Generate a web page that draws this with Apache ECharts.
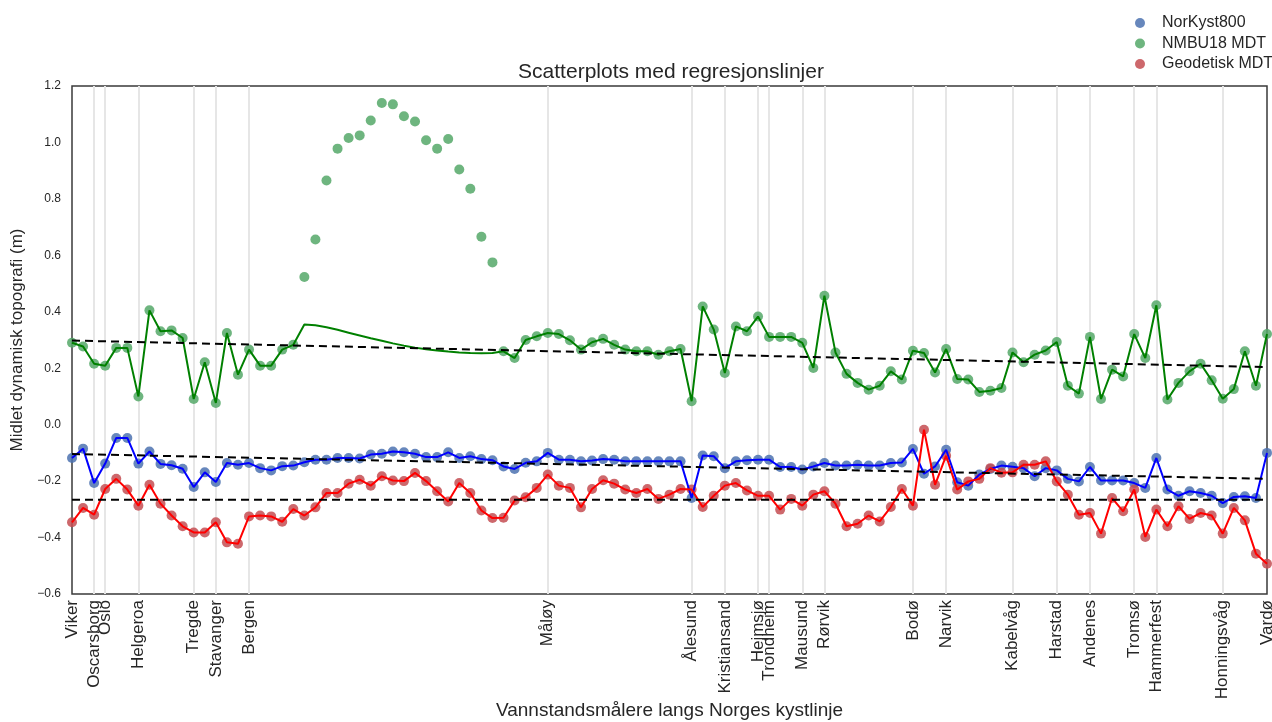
<!DOCTYPE html>
<html>
<head>
<meta charset="utf-8">
<script src="https://cdn.jsdelivr.net/npm/echarts@6/dist/echarts.min.js"></script>
<style>
  html, body { margin: 0; padding: 0; background: #fff; }
  #main { width: 1272px; height: 722px; }
</style>
</head>
<body>
<div id="main"></div>
<script>
// stasjoner langs kysten (indeks -> navn)
const stationIdx = [0, 2, 3, 6, 11, 13, 16, 43, 56, 59, 62, 63, 66, 68, 76, 79, 85, 89, 92, 96, 98, 104, 108];
const stationNames = ['Viker', 'Oscarsborg', 'Oslo', 'Helgeroa', 'Tregde', 'Stavanger', 'Bergen', 'Måløy',
    'Ålesund', 'Kristiansand', 'Hejmsjø', 'Trondheim', 'Mausund', 'Rørvik', 'Bodø', 'Narvik',
    'Kabelvåg', 'Harstad', 'Andenes', 'Tromsø', 'Hammerfest', 'Honningsvåg', 'Vardø'];
const nPoints = 109;

const norkyst = [
    -0.118, -0.085, -0.207, -0.138, -0.047, -0.047, -0.138, -0.095, -0.139, -0.144,
    -0.156, -0.221, -0.169, -0.203, -0.136, -0.142, -0.136, -0.154, -0.162, -0.147,
    -0.145, -0.133, -0.124, -0.124, -0.118, -0.118, -0.120, -0.106, -0.103, -0.095,
    -0.098, -0.103, -0.115, -0.115, -0.098, -0.118, -0.112, -0.122, -0.126, -0.148,
    -0.157, -0.135, -0.130, -0.100, -0.124, -0.124, -0.130, -0.127, -0.122, -0.124,
    -0.130, -0.130, -0.130, -0.130, -0.130, -0.130, -0.260, -0.109, -0.112, -0.154,
    -0.130, -0.126, -0.124, -0.124, -0.150, -0.150, -0.159, -0.148, -0.136, -0.145,
    -0.145, -0.142, -0.145, -0.145, -0.136, -0.134, -0.086, -0.174, -0.148, -0.089,
    -0.204, -0.216, -0.177, -0.157, -0.145, -0.149, -0.154, -0.183, -0.154, -0.162,
    -0.192, -0.201, -0.150, -0.198, -0.198, -0.198, -0.207, -0.224, -0.118, -0.230,
    -0.252, -0.236, -0.242, -0.252, -0.278, -0.256, -0.254, -0.260, -0.100
];
const nmbu = [
    0.290, 0.277, 0.216, 0.209, 0.272, 0.272, 0.100, 0.405, 0.331, 0.334,
    0.307, 0.091, 0.221, 0.077, 0.325, 0.177, 0.266, 0.209, 0.209, 0.266,
    0.283, 0.523, 0.656, 0.865, 0.978, 1.016, 1.025, 1.078, 1.140, 1.135,
    1.093, 1.074, 1.008, 0.978, 1.012, 0.904, 0.836, 0.666, 0.575, 0.260,
    0.236, 0.300, 0.313, 0.325, 0.321, 0.299, 0.266, 0.292, 0.304, 0.283,
    0.266, 0.260, 0.260, 0.248, 0.260, 0.268, 0.083, 0.419, 0.337, 0.183,
    0.348, 0.331, 0.383, 0.311, 0.311, 0.311, 0.290, 0.201, 0.457, 0.256,
    0.180, 0.148, 0.124, 0.138, 0.189, 0.160, 0.262, 0.254, 0.185, 0.268,
    0.162, 0.160, 0.116, 0.120, 0.130, 0.256, 0.221, 0.248, 0.263, 0.293,
    0.138, 0.110, 0.311, 0.091, 0.195, 0.171, 0.321, 0.236, 0.423, 0.089,
    0.148, 0.189, 0.216, 0.157, 0.092, 0.126, 0.260, 0.138, 0.321
];
// linja for NMBU18 gaar annerledes i indeks 21-38
const nmbuLineStart = 21;
const nmbuLinePart = [0.355, 0.352, 0.345, 0.336, 0.326, 0.316, 0.306, 0.297, 0.288,
    0.280, 0.273, 0.267, 0.263, 0.259, 0.256, 0.254, 0.253, 0.254];
const geodetisk = [
    -0.346, -0.295, -0.319, -0.228, -0.192, -0.230, -0.287, -0.213, -0.280, -0.322,
    -0.360, -0.382, -0.382, -0.346, -0.417, -0.422, -0.325, -0.322, -0.325, -0.344,
    -0.299, -0.322, -0.293, -0.242, -0.242, -0.209, -0.195, -0.216, -0.183, -0.198,
    -0.200, -0.171, -0.200, -0.236, -0.272, -0.207, -0.242, -0.304, -0.331, -0.330,
    -0.269, -0.257, -0.224, -0.177, -0.216, -0.224, -0.293, -0.228, -0.197, -0.209,
    -0.230, -0.242, -0.228, -0.263, -0.248, -0.228, -0.230, -0.292, -0.252, -0.216,
    -0.207, -0.233, -0.252, -0.252, -0.301, -0.263, -0.287, -0.248, -0.236, -0.280,
    -0.360, -0.351, -0.322, -0.343, -0.292, -0.228, -0.287, -0.018, -0.213, -0.110,
    -0.230, -0.201, -0.192, -0.154, -0.170, -0.169, -0.142, -0.142, -0.130, -0.201,
    -0.248, -0.319, -0.313, -0.386, -0.260, -0.307, -0.230, -0.398, -0.301, -0.360,
    -0.289, -0.334, -0.313, -0.322, -0.386, -0.295, -0.339, -0.457, -0.493
];
// regresjonslinjer: verdi i forste og siste punkt
const norkystReg = [-0.104, -0.192];
const nmbuReg = [0.298, 0.204];
const geodetiskReg = [-0.266, -0.266];

const categories = [];
for (let i = 0; i < nPoints; i++) categories.push('');
stationIdx.forEach((idx, k) => { categories[idx] = stationNames[k]; });

const nmbuLine = nmbu.slice();
nmbuLinePart.forEach((v, k) => { nmbuLine[nmbuLineStart + k] = v; });

const font = 'Liberation Sans, Arial, sans-serif';
const txt = '#262626';

function regLine(ends) {
    return {
        type: 'line', symbol: 'none', silent: true,
        data: [[0, ends[0]], [nPoints - 1, ends[1]]],
        lineStyle: { color: '#000', width: 2, type: [8, 5] },
        z: 4
    };
}
function dots(name, data, color) {
    return {
        name: name, type: 'scatter', data: data, symbolSize: 10,
        itemStyle: { color: color, opacity: 0.85 }, z: 2
    };
}
function curve(data, color) {
    return {
        type: 'line', symbol: 'none', data: data, silent: true,
        lineStyle: { color: color, width: 2 }, z: 3
    };
}

const chart = echarts.init(document.getElementById('main'), null, { renderer: 'canvas' });
const option = {
    backgroundColor: '#ffffff',
    animation: false,
    textStyle: { fontFamily: font },
    title: {
        text: 'Scatterplots med regresjonslinjer',
        left: 666, top: 57, textAlign: 'center',
        textStyle: { fontSize: 21, fontWeight: 'normal', color: txt, fontFamily: font }
    },
    legend: {
        orient: 'vertical', left: 1130, top: 10,
        icon: 'circle', itemWidth: 10, itemHeight: 10, itemGap: 4.5,
        data: ['NorKyst800', 'NMBU18 MDT', 'Geodetisk MDT'],
        textStyle: { fontSize: 16, color: txt, fontFamily: font, padding: [0, 0, 0, 12], lineHeight: 16 }
    },
    grid: {
        left: 72, right: 5, top: 86, bottom: 128,
        outerBoundsMode: 'none',
        show: true, borderColor: '#3a3a3a', borderWidth: 1.5
    },
    xAxis: {
        type: 'category', data: categories, boundaryGap: false,
        name: 'Vannstandsmålere langs Norges kystlinje',
        nameLocation: 'middle', nameGap: 107, nameMoveOverlap: false,
        nameTextStyle: { fontSize: 19, color: txt, fontFamily: font },
        axisLine: { show: false }, axisTick: { show: false },
        axisLabel: { interval: 0, rotate: 90, fontSize: 17, color: txt, margin: 6, fontFamily: font },
        splitLine: {
            show: true,
            // ingen linje paa kantene, der ligger rammen
            interval: (idx, val) => val !== '' && idx > 0 && idx < nPoints - 1,
            lineStyle: { color: '#e6e6e6', width: 2 }
        }
    },
    yAxis: {
        type: 'value', min: -0.6, max: 1.2, interval: 0.2,
        name: 'Midlet dynamisk topografi (m)',
        nameLocation: 'middle', nameGap: 46, nameMoveOverlap: false,
        nameTextStyle: { fontSize: 17, color: txt, fontFamily: font },
        axisLine: { show: false }, axisTick: { show: false }, splitLine: { show: false },
        axisLabel: {
            fontSize: 12, color: txt, margin: 11, fontFamily: font,
            formatter: v => v.toFixed(1).replace('-', '\u2212')
        }
    },
    series: [
        dots('NorKyst800', norkyst, '#4C72B0'),
        dots('NMBU18 MDT', nmbu, '#55A868'),
        dots('Geodetisk MDT', geodetisk, '#C44E52'),
        curve(norkyst, '#0000ff'),
        curve(nmbuLine, '#008000'),
        curve(geodetisk, '#ff0000'),
        regLine(norkystReg),
        regLine(nmbuReg),
        regLine(geodetiskReg)
    ]
};
chart.setOption(option);
</script>
</body>
</html>
